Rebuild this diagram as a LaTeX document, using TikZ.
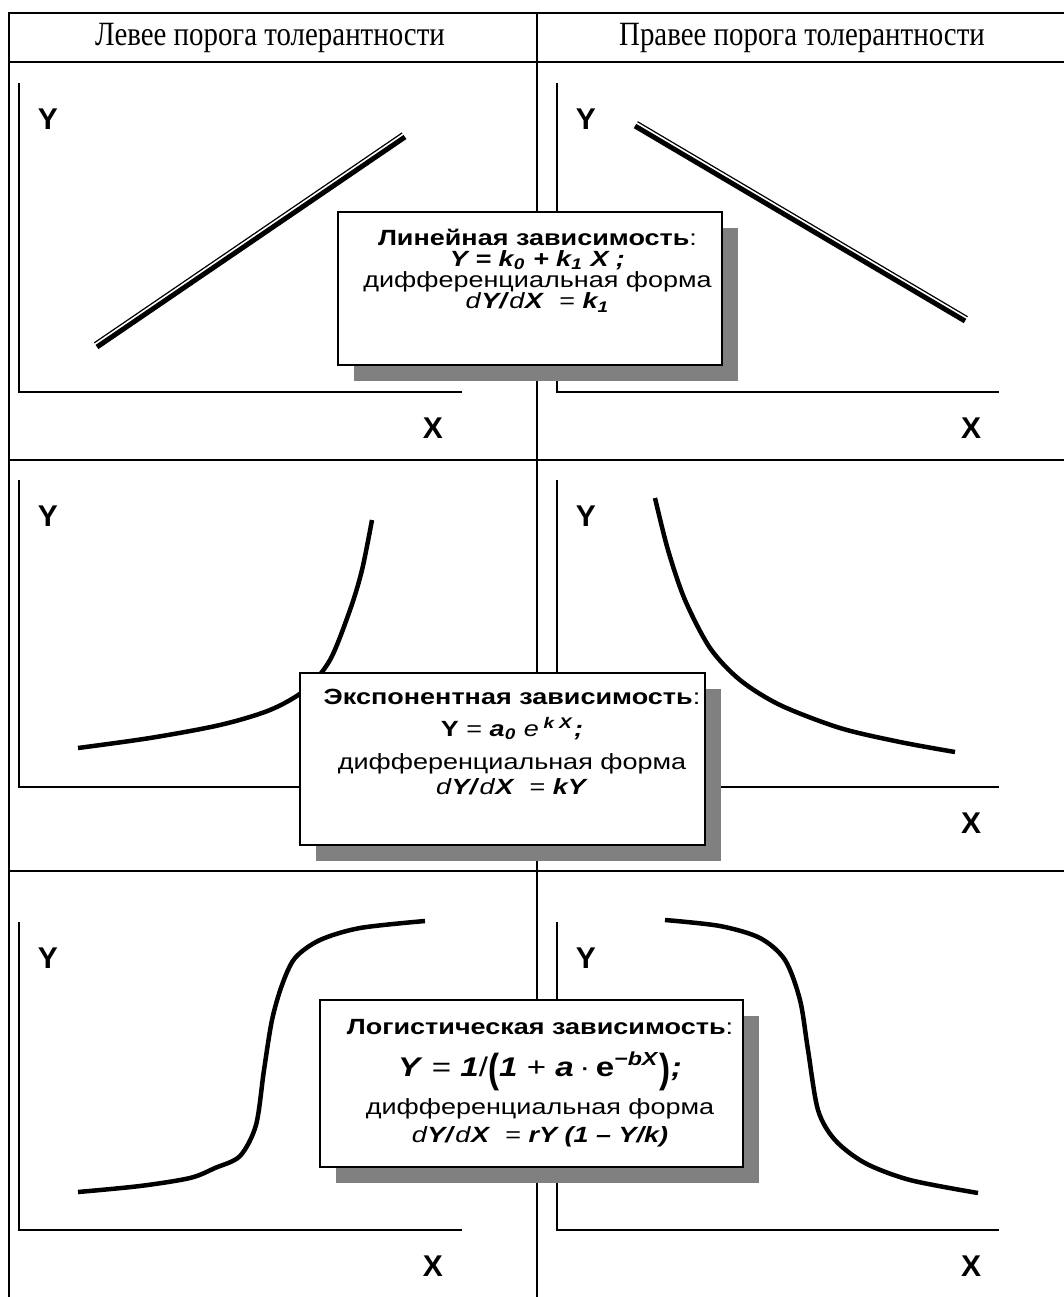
\documentclass[tikz,border=0pt]{standalone}
\usepackage{fontspec}
\setmainfont{Liberation Serif}
\setsansfont{Liberation Sans}
\usepackage{graphicx}
\usetikzlibrary{calc, shadows}
\definecolor{shadowgray}{RGB}{128,128,128}
\newcommand{\narrow}[1]{\scalebox{0.85}[1]{#1}}
\newcommand{\bi}[1]{\textbf{\textit{#1}}}
\newcommand{\bigpar}[1]{\raisebox{-3pt}{\scalebox{1}[1.5]{\textbf{#1}}}}
% stretched, tightly spaced lines of a formula box
\newcommand{\boxlines}[1]{\scalebox{1.227}[1]{\parbox{250pt}{\centering
    \lineskiplimit=-30pt\relax #1}}}

\begin{document}
\begin{tikzpicture}[
    x=0.5pt, y=-0.5pt,
    grid/.style={line width=1pt},
    axis/.style={line width=0.75pt},
    curve/.style={line width=2.25pt, line join=round},
    thickline/.style={line width=2.5pt},
    thinline/.style={line width=0.6pt},
    head/.style={font=\fontsize{17}{19}\selectfont},
    lab/.style={font=\sffamily\bfseries\fontsize{15}{17}\selectfont},
    formula/.style={rectangle, draw, line width=0.75pt, fill=white,
                    general shadow={fill=shadowgray, shadow xshift=8pt, shadow yshift=-8pt}},
    ftext/.style={font=\sffamily\fontsize{11}{10.6}\selectfont,
                  anchor=north, inner sep=0pt}
]
\useasboundingbox (0,0) rectangle (1064,1297);

%% --- Table ---
\draw[grid] (9,1297) -- (9,13) -- (1064,13);
\draw[grid] (9,62) -- (1064,62);
\draw[grid] (537,13) -- (537,1297);
\draw[grid] (9,460) -- (1064,460);
\draw[grid] (9,871) -- (1064,871);

\node[head] (hleft)  at (270,38) {\narrow{Левее порога толерантности}};
\node[head] (hright) at (802,38) {\narrow{Правее порога толерантности}};

%% --- Axes ---
\foreach \t/\b in {83/392, 480/787, 922/1230} {
    \draw[axis] (19,\t) -- (19,\b) -- (462,\b);
    \draw[axis] (557,\t) -- (557,\b) -- (999,\b);
}

\node[lab] (y1l) at (48,119) {Y};
\node[lab] (y1r) at (586,119) {Y};
\node[lab] (x1l) at (433,428) {X};
\node[lab] (x1r) at (971,428) {X};
\node[lab] (y2l) at (48,516) {Y};
\node[lab] (y2r) at (586,516) {Y};
\node[lab] (x2r) at (971,823) {X};
\node[lab] (y3l) at (48,958) {Y};
\node[lab] (y3r) at (586,958) {Y};
\node[lab] (x3l) at (433,1266) {X};
\node[lab] (x3r) at (971,1266) {X};

%% --- Linear ---
\coordinate (lla) at (97,347);
\coordinate (llb) at (405,137);
\draw[thickline] (lla) -- (llb);
\draw[thinline] ($(lla)!2.5pt!90:(llb)$) -- ($(llb)!2.5pt!-90:(lla)$);

\coordinate (lra) at (635,126);
\coordinate (lrb) at (965,321);
\draw[thickline] (lra) -- (lrb);
\draw[thinline] ($(lra)!2.5pt!90:(lrb)$) -- ($(lrb)!2.5pt!-90:(lra)$);

%% --- Exponential ---
\draw[curve] plot[smooth] coordinates {(78,748) (150,738) (220,725) (270,710)
    (305,690) (330,660) (350,610) (362,570) (372,520)};
\draw[curve] plot[smooth] coordinates {(655,498) (668,550) (685,600) (710,648)
    (740,680) (780,705) (840,728) (900,742) (955,752)};

%% --- Logistic ---
\draw[curve] plot[smooth] coordinates {(78,1192) (140,1186) (190,1178) (215,1168)
    (240,1156) (256,1125) (264,1070) (272,1020) (282,985) (295,958) (320,940)
    (360,928) (425,921)};
\draw[curve] plot[smooth] coordinates {(665,920) (720,926) (760,938) (785,960)
    (800,1000) (808,1050) (818,1110) (835,1140) (865,1163) (910,1180) (978,1193)};

%% --- Formula boxes ---
\node[formula, minimum width=192pt, minimum height=76.5pt] (linbox) at (530,288.5) {};
\node[ftext] (lintext) at (537.5,228.5) {\boxlines{\textbf{Линейная зависимость}:\\
    \bi{Y = k\textsubscript{0} + k\textsubscript{1} X ;}\\
    дифференциальная форма\\
    \textit{d}\bi{Y/}\textit{d}\bi{X} \ = \bi{k\textsubscript{1}}}};

\node[formula, minimum width=202.5pt, minimum height=86pt] (expbox) at (502.5,759) {};
\node[ftext] (exptext) at (512,688.5) {\boxlines{\textbf{Экспонентная зависимость}:\\[5.4pt]
    \textbf{Y} = \bi{a\textsubscript{0}} \textit{e}\,\textsuperscript{\bi{k X}}\bi{;}\\[5.9pt]
    дифференциальная форма\\[1.9pt]
    \textit{d}\bi{Y/}\textit{d}\bi{X} \ = \bi{kY}}};

\node[formula, minimum width=211.5pt, minimum height=83.5pt] (logbox) at (531.5,1083.5) {};
\node[ftext] (logtext) at (540,1018.5) {\boxlines{\textbf{Логистическая зависимость}:\\[10.4pt]
    {\fontsize{13.5}{10.6}\selectfont\bi{Y} = \bi{1}/\bigpar{(}\bi{1} + \bi{a}\,·\,\textbf{e}\textsuperscript{\bi{−bX}}\bigpar{)}\bi{;}}\\[8.4pt]
    дифференциальная форма\\[3.4pt]
    \textit{d}\bi{Y/}\textit{d}\bi{X} \ = \bi{rY (1 – Y/k)}}};

\end{tikzpicture}
\end{document}
